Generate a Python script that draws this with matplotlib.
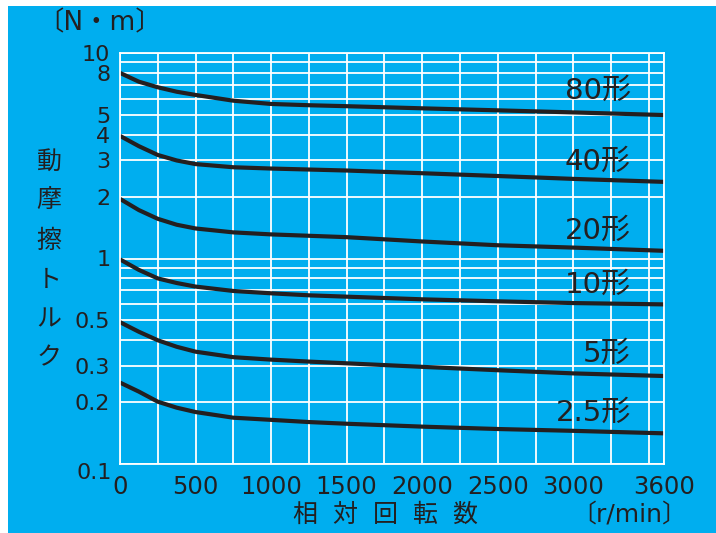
import numpy as np
import matplotlib
matplotlib.use("Agg")
import matplotlib.pyplot as plt
import matplotlib.transforms as mtransforms
from matplotlib.patches import Rectangle

# relative speed [r/min]
speed = [0, 125, 250, 375, 500, 750, 1000, 1250, 1500, 2000, 2500, 3000, 3600]

# dynamic friction torque [N·m] per size
t80 = [8.0, 7.25, 6.81, 6.48, 6.25, 5.86, 5.65, 5.57, 5.51, 5.38, 5.26, 5.14, 4.99]
t40 = [3.95, 3.52, 3.19, 3.00, 2.88, 2.78, 2.74, 2.71, 2.68, 2.60, 2.52, 2.44, 2.36]
t20 = [1.95, 1.72, 1.56, 1.46, 1.40, 1.34, 1.31, 1.29, 1.27, 1.21, 1.16, 1.13, 1.09]
t10 = [0.99, 0.88, 0.80, 0.76, 0.73, 0.695, 0.677, 0.662, 0.652, 0.633, 0.619, 0.607, 0.598]
t5 = [0.49, 0.44, 0.40, 0.372, 0.352, 0.331, 0.322, 0.315, 0.309, 0.297, 0.286, 0.276, 0.268]
t2_5 = [0.249, 0.225, 0.201, 0.188, 0.179, 0.168, 0.164, 0.160, 0.157, 0.152, 0.148, 0.145, 0.141]

series = [t80, t40, t20, t10, t5, t2_5]
names = ["80形", "40形", "20形", "10形", "5形", "2.5形"]
label_y = [6.53, 2.95, 1.37, 0.743, 0.345, 0.177]

xticks = [0, 500, 1000, 1500, 2000, 2500, 3000, 3600]
yticks = [0.1, 0.2, 0.3, 0.5, 1, 2, 3, 4, 5, 8, 10]
ytick_labels = ["0.1", "0.2", "0.3", "0.5", "1", "2", "3", "4", "5", "8", "10"]

BLUE = "#00AEEF"
INK = "#231f20"
FONTS = ["DejaVu Sans", "Noto Sans CJK JP"]

fig = plt.figure(figsize=(7.16, 5.33), dpi=100, facecolor="white")
fig.patches.append(Rectangle((8 / 716, 0), 1, (533 - 6) / 533, transform=fig.transFigure,
                             facecolor=BLUE, edgecolor="none", zorder=-10))

ax = fig.add_axes([120 / 716, 69 / 533, 544 / 716, 411 / 533])
ax.set_facecolor(BLUE)
ax.set_yscale("log")
ax.set_xlim(0, 3600)
ax.set_ylim(0.1, 10)

ax.set_xticks(np.arange(0, 3501, 250), minor=True)
ax.set_xticks(xticks)
ax.set_xticklabels([str(v) for v in xticks])
ax.set_yticks(yticks)
ax.set_yticklabels(ytick_labels)
ax.grid(True, which="both", color="white", linewidth=1.3)
ax.set_axisbelow(True)
ax.tick_params(which="both", length=0, colors=INK)
ax.tick_params(axis="x", pad=8, labelsize=17.5)
ax.tick_params(axis="y", pad=7, labelsize=16)
for s in ax.spines.values():
    s.set_color("white")
    s.set_linewidth(1.3)

# shift the 0.1 label down a little like the original
lbl = ax.get_yticklabels()[0]
lbl.set_transform(lbl.get_transform() + mtransforms.ScaledTranslation(2 / 100, -7 / 100, fig.dpi_scale_trans))

for vals, name, ly in zip(series, names, label_y):
    ax.plot(speed, vals, color=INK, linewidth=3.0, solid_capstyle="butt", solid_joinstyle="round")
    ax.text(3380, ly, name, ha="right", va="center", fontsize=21, color=INK, family=FONTS)

# unit labels
fig.text(100 / 716, 1 - 23 / 533, "〔N・m〕", ha="center", va="center", fontsize=19, color=INK, family=FONTS)
fig.text(629 / 716, 1 - 515 / 533, "〔r/min〕", ha="center", va="center", fontsize=18, color=INK, family=FONTS)

# vertical axis title
for i, ch in enumerate("動摩擦トルク"):
    fig.text(49 / 716, 1 - (162 + 39.3 * i) / 533, ch, ha="center", va="center",
             fontsize=18, color=INK, family=FONTS)

# horizontal axis title
for i, ch in enumerate("相対回転数"):
    fig.text((305 + 40 * i) / 716, 1 - 515 / 533, ch, ha="center", va="center",
             fontsize=18, color=INK, family=FONTS)

fig.savefig("out.png", dpi=100, facecolor="white")
